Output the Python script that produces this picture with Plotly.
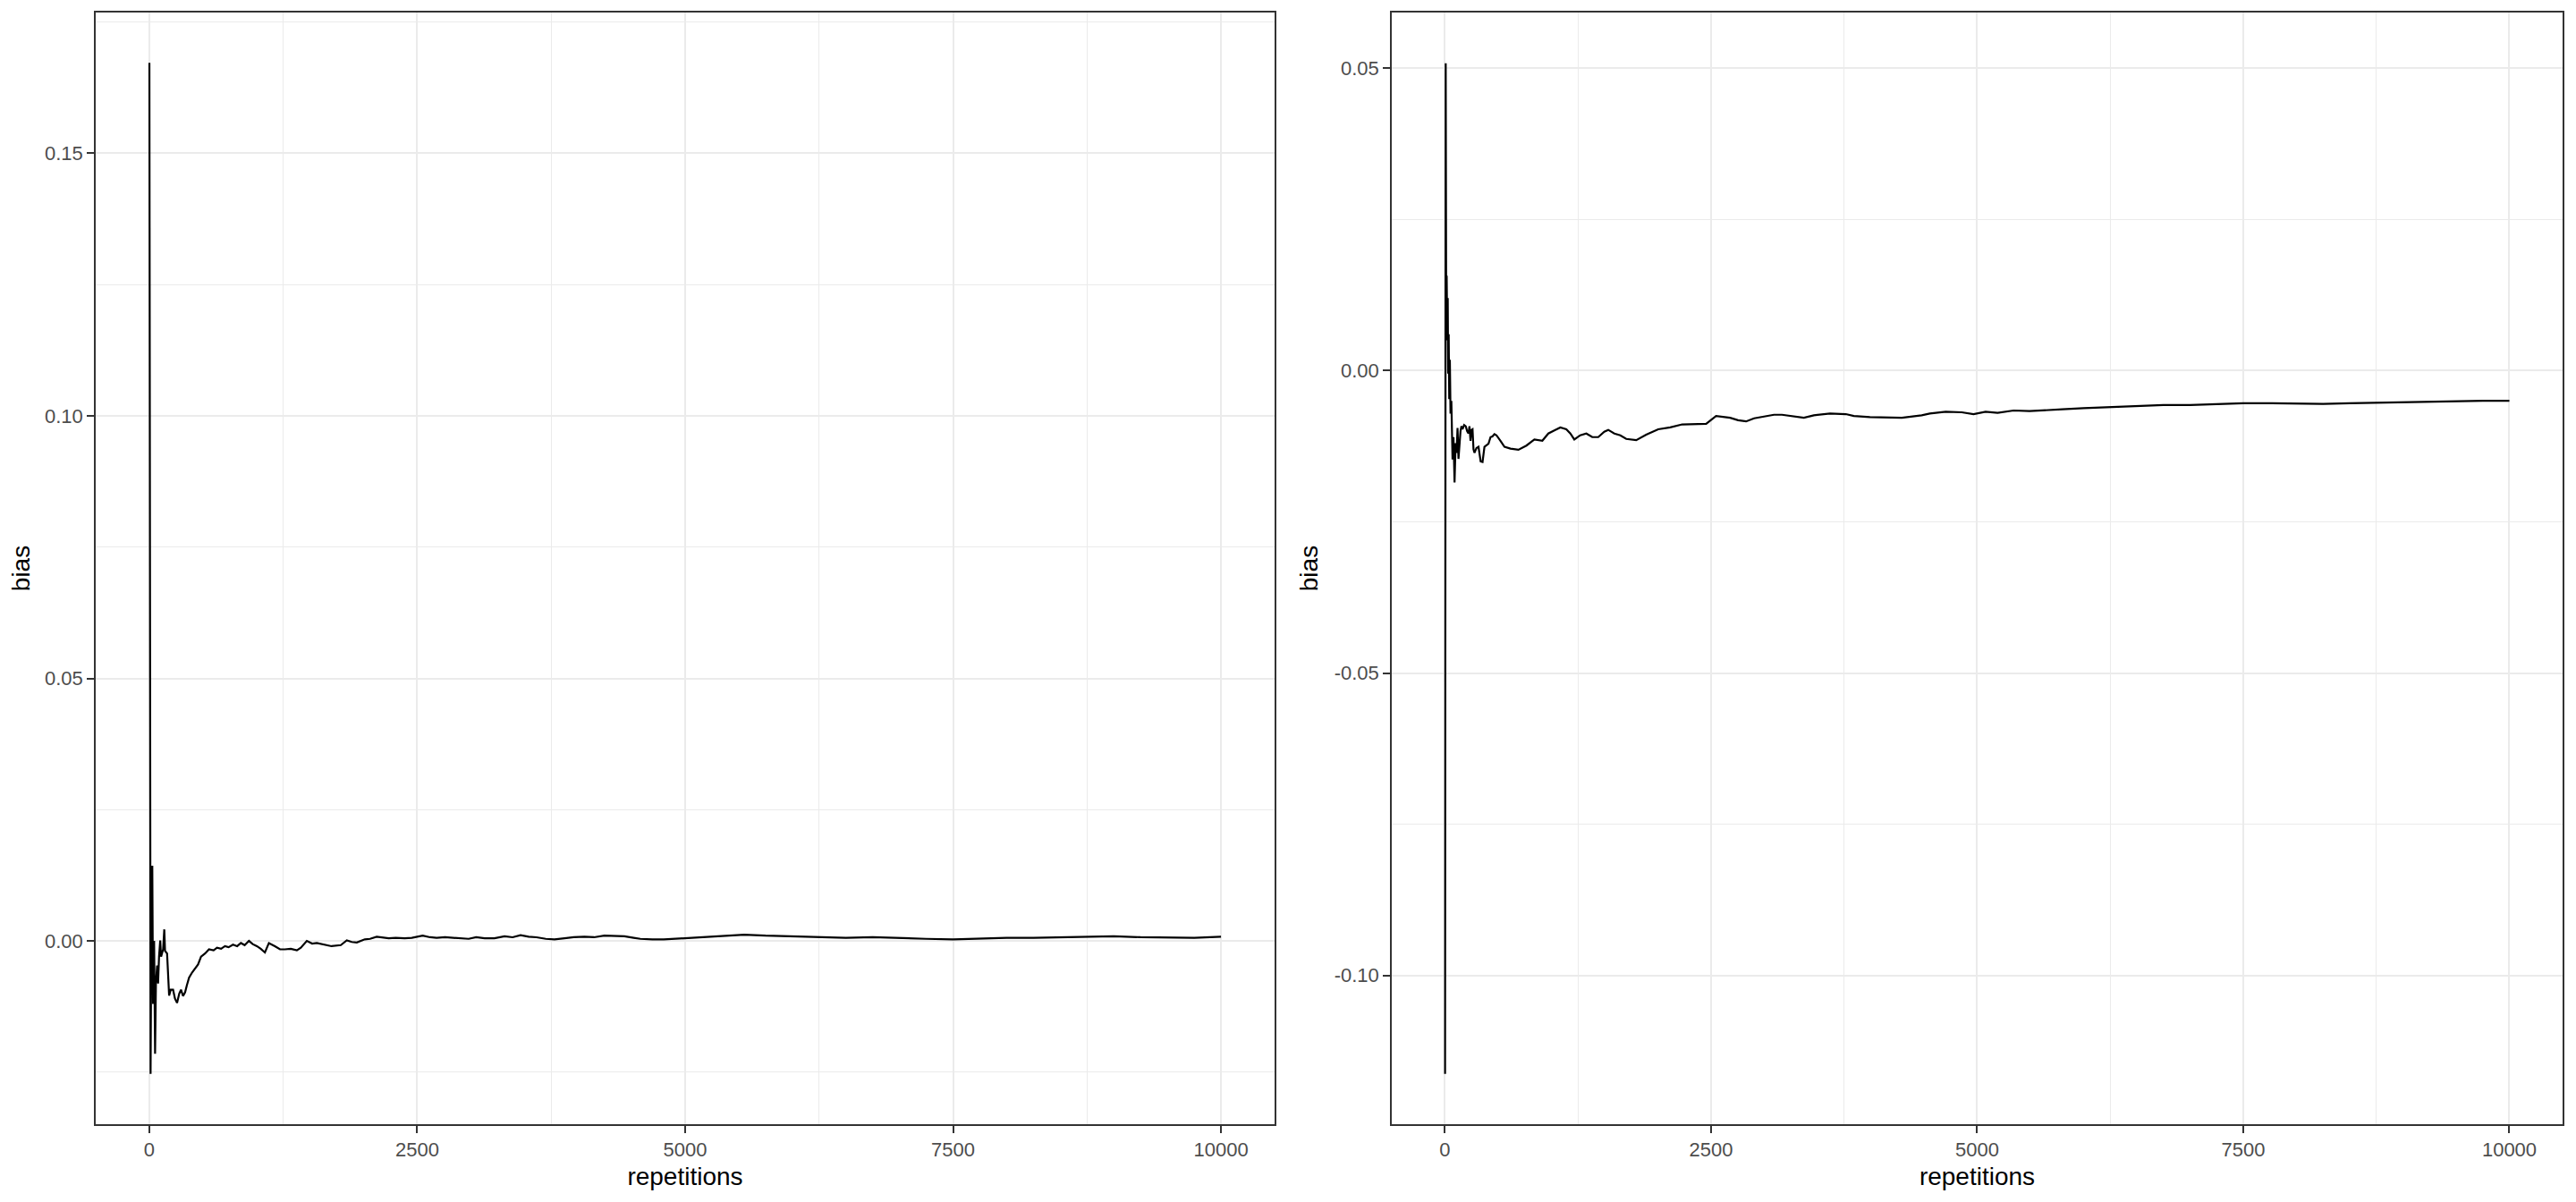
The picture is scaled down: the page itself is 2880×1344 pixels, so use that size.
import plotly.graph_objects as go
from plotly.subplots import make_subplots

# ---- data (cumulative bias vs repetitions) ----
left_reps = [1, 6, 12, 20, 28, 35, 45, 54, 62, 73, 82, 91, 102, 110, 118, 129, 140, 147, 166,
             185, 200, 222, 240, 259, 280, 296, 315, 334, 350, 371, 400, 427, 455, 483, 520,
             557, 600, 632, 670, 706, 740, 781, 820, 855, 890, 930, 965, 1004, 1040, 1079,
             1116, 1172, 1220, 1265, 1320, 1377, 1414, 1470, 1520, 1563, 1638, 1700, 1787,
             1843, 1890, 1936, 2011, 2060, 2122, 2180, 2234, 2300, 2383, 2450, 2551, 2620,
             2681, 2760, 2831, 2900, 2980, 3050, 3129, 3220, 3315, 3390, 3464, 3540, 3613,
             3700, 3781, 3874, 3960, 4060, 4150, 4246, 4340, 4433, 4520, 4582, 4694, 4800,
             4992, 5178, 5364, 5551, 5750, 6000, 6250, 6500, 6750, 7000, 7250, 7500, 7750,
             8000, 8250, 8500, 8750, 9000, 9250, 9500, 9750, 10000]
left_bias = [0.1672, -0.0166, -0.0253, 0.0050, 0.0143, -0.0120, 0.0000, -0.0215, -0.0080,
             -0.0047, -0.0081, -0.0030, 0.0001, -0.0030, -0.0024, -0.0016, 0.0022, -0.0019,
             -0.0024, -0.0104, -0.0093, -0.0093, -0.0110, -0.0118, -0.0100, -0.0093, -0.0105,
             -0.0098, -0.0085, -0.0070, -0.0060, -0.0053, -0.0045, -0.0030, -0.0024, -0.0016,
             -0.0018, -0.0013, -0.0015, -0.0010, -0.0012, -0.0007, -0.0010, -0.0004, -0.0008,
             0.0000, -0.0006, -0.0010, -0.0015, -0.0022, -0.0004, -0.0010, -0.0016, -0.0016,
             -0.0015, -0.0018, -0.0013, 0.0000, -0.0005, -0.0004, -0.0007, -0.0010, -0.0008,
             0.0001, -0.0002, -0.0003, 0.0003, 0.0004, 0.0008, 0.0006, 0.0005, 0.0006, 0.0005,
             0.0006, 0.0010, 0.0007, 0.0006, 0.0007, 0.0006, 0.0004, 0.0004, 0.0007, 0.0005,
             0.0005, 0.0009, 0.0007, 0.0011, 0.0008, 0.0007, 0.0004, 0.0003, 0.0005, 0.0007,
             0.0008, 0.0007, 0.0010, 0.0009, 0.0009, 0.0006, 0.0004, 0.0003, 0.0003, 0.0005,
             0.0007, 0.0009, 0.0012, 0.0010, 0.0009, 0.0008, 0.0006, 0.0007, 0.0005, 0.0004,
             0.0003, 0.0005, 0.0006, 0.0006, 0.0007, 0.0008, 0.0009, 0.0007, 0.0006, 0.0006,
             0.0008]

right_reps = [1, 3, 5, 7, 12, 16, 22, 26, 30, 35, 40, 46, 52, 60, 71, 80, 90, 100, 109, 118,
              127, 137, 146, 155, 165, 180, 195, 208, 221, 230, 240, 250, 259, 268, 277, 296,
              315, 335, 353, 371, 390, 409, 428, 446, 465, 484, 521, 559, 615, 690, 765, 840,
              915, 971, 1028, 1084, 1140, 1178, 1215, 1271, 1328, 1384, 1440, 1497, 1534, 1591,
              1647, 1703, 1797, 1891, 2003, 2116, 2229, 2341, 2454, 2547, 2679, 2754, 2829,
              2904, 2979, 3091, 3166, 3279, 3372, 3466, 3617, 3766, 3841, 3992, 4179, 4292,
              4479, 4555, 4704, 4855, 4966, 5079, 5192, 5342, 5492, 5642, 5800, 6000, 6250,
              6500, 6750, 7000, 7250, 7500, 7750, 8000, 8250, 8500, 8750, 9000, 9250, 9500,
              9750, 10000]
right_bias = [-0.1163, 0.0334, 0.0200, 0.0508, 0.0050, 0.0157, 0.0051, 0.0120, -0.0005,
              0.0060, -0.0047, 0.0018, -0.0071, -0.0050, -0.0147, -0.0110, -0.0185, -0.0120,
              -0.0136, -0.0095, -0.0146, -0.0110, -0.0100, -0.0092, -0.0097, -0.0090, -0.0092,
              -0.0100, -0.0104, -0.0092, -0.0116, -0.0098, -0.0097, -0.0130, -0.0136, -0.0128,
              -0.0126, -0.0150, -0.0151, -0.0126, -0.0124, -0.0121, -0.0110, -0.0109, -0.0105,
              -0.0107, -0.0116, -0.0126, -0.0129, -0.0131, -0.0124, -0.0114, -0.0116, -0.0104,
              -0.0099, -0.0094, -0.0097, -0.0104, -0.0114, -0.0107, -0.0104, -0.0110, -0.0110,
              -0.0101, -0.0098, -0.0104, -0.0107, -0.0113, -0.0115, -0.0106, -0.0097, -0.0094,
              -0.0089, -0.0088, -0.0088, -0.0075, -0.0078, -0.0082, -0.0084, -0.0079, -0.0077,
              -0.0073, -0.0073, -0.0076, -0.0078, -0.0074, -0.0071, -0.0072, -0.0075, -0.0077,
              -0.0078, -0.0078, -0.0074, -0.0071, -0.0068, -0.0069, -0.0072, -0.0068, -0.0070,
              -0.0066, -0.0067, -0.0065, -0.0064, -0.0062, -0.0060, -0.0058, -0.0057, -0.0057,
              -0.0055, -0.0054, -0.0054, -0.0055, -0.0055, -0.0054, -0.0053, -0.0052, -0.0051,
              -0.0051, -0.0050, -0.0050]

x_tick_vals = [0, 2500, 5000, 7500, 10000]
x_tick_text = ["0", "2500", "5000", "7500", "10000"]
left_y_ticks = [0.00, 0.05, 0.10, 0.15]
left_y_text = ["0.00", "0.05", "0.10", "0.15"]
right_y_ticks = [-0.10, -0.05, 0.00, 0.05]
right_y_text = ["-0.10", "-0.05", "0.00", "0.05"]

# ---- figure ----
fig = make_subplots(rows=1, cols=2, horizontal_spacing=0.0475)
fig.add_trace(go.Scatter(x=left_reps, y=left_bias, mode="lines",
                         line=dict(color="black", width=2.2), showlegend=False), row=1, col=1)
fig.add_trace(go.Scatter(x=right_reps, y=right_bias, mode="lines",
                         line=dict(color="black", width=2.2), showlegend=False), row=1, col=2)

tick_font = dict(family="Liberation Sans, Arial, sans-serif", size=22, color="#4D4D4D")
title_font = dict(family="Liberation Sans, Arial, sans-serif", size=28, color="black")
grid = "#EBEBEB"

common_axis = dict(showline=True, mirror=True, linecolor="#333333", linewidth=1.6,
                   ticks="outside", ticklen=8, tickwidth=2, tickcolor="#333333",
                   showgrid=True, gridcolor=grid, gridwidth=2, zeroline=False,
                   tickfont=tick_font, title_font=title_font, automargin=False)

fig.update_xaxes(**common_axis, range=[-500, 10500], tickvals=x_tick_vals, ticktext=x_tick_text,
                 minor=dict(dtick=1250, tick0=0, showgrid=True, gridcolor=grid, gridwidth=1, ticks=""),
                 title_text="repetitions", title_standoff=8)
fig.update_xaxes(domain=[0, 0.47788], row=1, col=1)
fig.update_xaxes(domain=[0.52538, 1.0], row=1, col=2)

fig.update_yaxes(**common_axis, title_text="bias", title_standoff=10)
fig.update_yaxes(range=[-0.0349, 0.1768], tickvals=left_y_ticks, ticktext=left_y_text,
                 minor=dict(dtick=0.025, tick0=0, showgrid=True, gridcolor=grid, gridwidth=1, ticks=""),
                 row=1, col=1)
fig.update_yaxes(range=[-0.1246, 0.0592], tickvals=right_y_ticks, ticktext=right_y_text,
                 minor=dict(dtick=0.025, tick0=0, showgrid=True, gridcolor=grid, gridwidth=1, ticks=""),
                 row=1, col=2)

# the page body adds an 8 px offset, so margins are shifted to compensate
fig.update_layout(width=2880, height=1344, autosize=False,
                  margin=dict(l=99, r=23, t=6, b=95),
                  paper_bgcolor="white", plot_bgcolor="white")

fig.write_html("out.html")
